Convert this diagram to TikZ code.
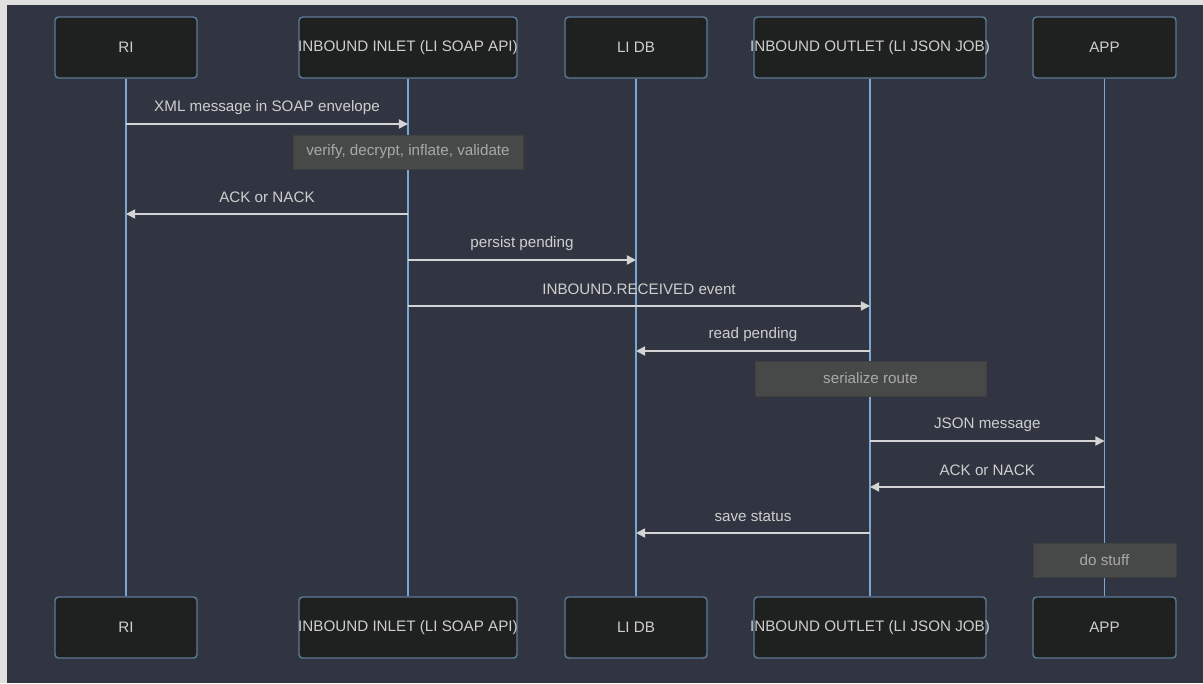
\documentclass[tikz,border=0pt]{standalone}
\usepackage{fontspec}
\setmainfont{Liberation Sans}
\usetikzlibrary{arrows.meta}
\definecolor{framegrey}{RGB}{224,224,224}
\definecolor{darkbg}{RGB}{49,53,65}
\definecolor{actorbg}{RGB}{31,32,32}
\definecolor{actorblue}{RGB}{92,122,150}
\definecolor{lifeblue}{RGB}{122,166,210}
\definecolor{msggrey}{RGB}{212,212,212}
\definecolor{lightgrey}{RGB}{206,206,206}
\definecolor{notegrey}{RGB}{71,73,73}
\definecolor{noteedge}{RGB}{62,64,64}
\definecolor{notetext}{RGB}{168,168,168}
\newcommand{\msgfont}{\fontsize{8.65}{10.5}\selectfont}

\begin{document}
\begin{tikzpicture}[
    x=0.02cm,y=-0.02cm,
    actor/.style={draw=actorblue,line width=0.8pt,fill=actorbg,rounded corners=2pt,
      minimum height=1.22cm,inner sep=0pt,align=center,font=\msgfont,text=lightgrey},
    note/.style={draw=noteedge,fill=notegrey,minimum height=0.68cm,inner sep=0pt,
      font=\msgfont,text=notetext},
    life/.style={draw=lifeblue,line width=0.8pt},
    msg/.style={draw=msggrey,line width=0.9pt,-{Triangle[length=5.2pt,width=5.2pt]}},
    lbl/.style={font=\msgfont,text=lightgrey,yshift=0.33cm}
  ]
    \useasboundingbox (0,0) rectangle (1203,683);
    \fill[framegrey] (0,0) rectangle (1203,683);
    \fill[darkbg] (7,5) rectangle (1203,683);

    \node[actor,minimum width=2.84cm] (ri) at (126,47.5) {RI};
    \node[actor,minimum width=4.36cm] (inlet) at (408,47.5) {\makebox[0pt]{INBOUND INLET (LI SOAP API)}};
    \node[actor,minimum width=2.84cm] (lidb) at (636,47.5) {LI DB};
    \node[actor,minimum width=4.64cm] (outlet) at (870,47.5) {\makebox[0pt]{INBOUND OUTLET (LI JSON JOB)}};
    \node[actor,minimum width=2.86cm] (app) at (1104.5,47.5) {APP};

    \node[actor,minimum width=2.84cm] (rib) at (126,627.5) {RI};
    \node[actor,minimum width=4.36cm] (inletb) at (408,627.5) {\makebox[0pt]{INBOUND INLET (LI SOAP API)}};
    \node[actor,minimum width=2.84cm] (lidbb) at (636,627.5) {LI DB};
    \node[actor,minimum width=4.64cm] (outletb) at (870,627.5) {\makebox[0pt]{INBOUND OUTLET (LI JSON JOB)}};
    \node[actor,minimum width=2.86cm] (appb) at (1104.5,627.5) {APP};

    \draw[life] (ri) -- (rib);
    \draw[life] (inlet) -- (inletb);
    \draw[life] (lidb) -- (lidbb);
    \draw[life] (outlet) -- (outletb);
    \draw[life] (app) -- (appb);

    \draw[msg] (ri |- 0,124) -- node[lbl] {XML message in SOAP envelope} (inlet |- 0,124);
    \node[note,minimum width=4.6cm] (verify) at (408,152) {verify, decrypt, inflate, validate};
    \draw[msg] (inlet |- 0,214) -- node[lbl] {ACK or NACK} (ri |- 0,214);
    \draw[msg] (inlet |- 0,260) -- node[lbl] {persist pending} (lidb |- 0,260);
    \draw[msg] (inlet |- 0,306) -- node[lbl] {INBOUND.RECEIVED event} (outlet |- 0,306);
    \draw[msg] (outlet |- 0,351) -- node[lbl] {read pending} (lidb |- 0,351);
    \node[note,minimum width=4.62cm,minimum height=0.7cm] (serialize) at (870.5,378.5) {serialize route};
    \draw[msg] (outlet |- 0,441) -- node[lbl] {JSON message} (app |- 0,441);
    \draw[msg] (app |- 0,487) -- node[lbl] {ACK or NACK} (outlet |- 0,487);
    \draw[msg] (outlet |- 0,533) -- node[lbl] {save status} (lidb |- 0,533);
    \node[note,minimum width=2.86cm] (dostuff) at (1104.5,560) {do stuff};
  \end{tikzpicture}
\end{document}
